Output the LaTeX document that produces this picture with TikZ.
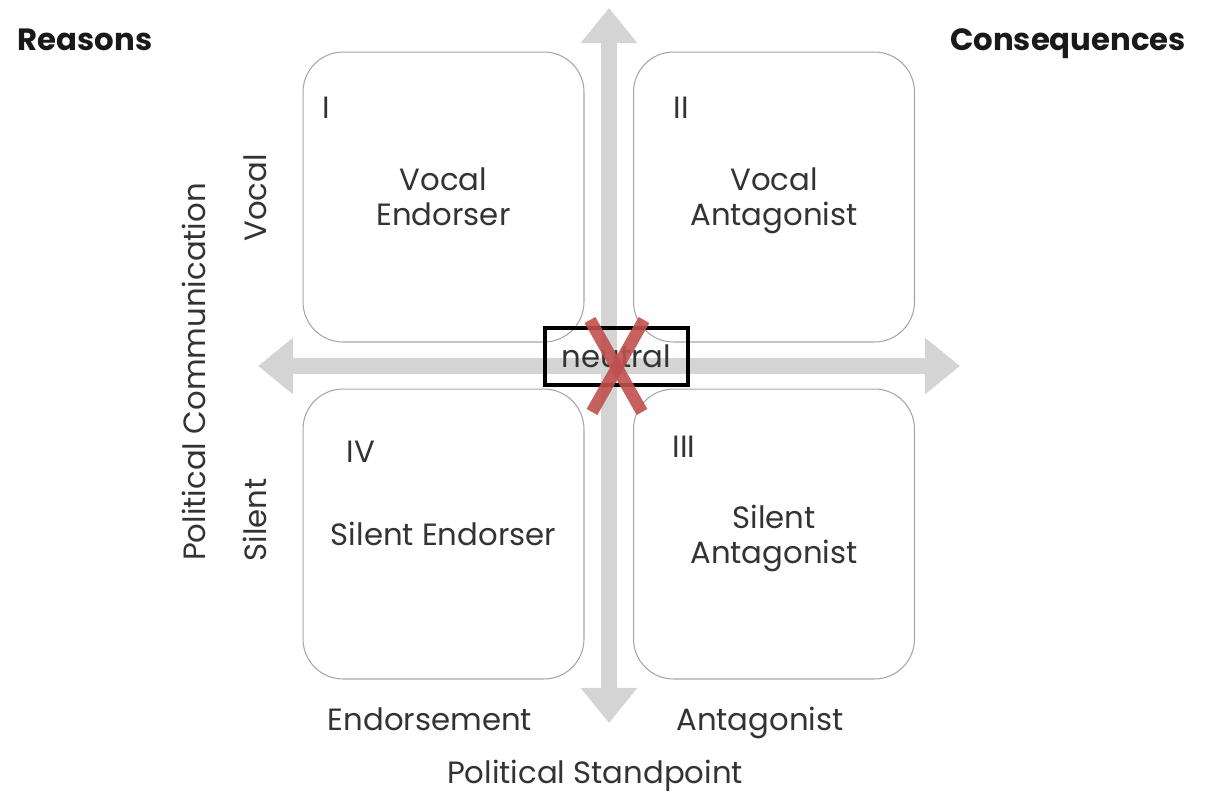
\documentclass[tikz,border=0pt]{standalone}
\usepackage{fontspec}
\setmainfont{Poppins}
\usetikzlibrary{arrows.meta}

\begin{document}
\begin{tikzpicture}[x=0.02cm,y=-0.02cm,
    txt/.style={text=black!80,font=\fontsize{17.5}{20}\selectfont},
    lbl/.style={txt,text height=0.72em,text depth=0.25em},
    quadrant/.style={txt,draw=black!35,line width=0.6pt,fill=white,rounded corners=0.8cm,
      minimum width=5.62cm,minimum height=5.8cm,align=center,inner sep=0pt,text depth=0pt},
    axis/.style={draw=axisgray,line width=9.5pt,
      {Triangle[width=31pt,length=20pt]}-{Triangle[width=31pt,length=20pt]}}]
        \colorlet{axisgray}{black!17}
        \definecolor{crossred}{RGB}{192,80,77}
        \useasboundingbox (0,0) rectangle (1220,794);

        % axes
        \coordinate (top) at (609,8);
        \coordinate (bottom) at (609,723);
        \coordinate (left) at (258,366);
        \coordinate (right) at (960,366);
        \draw[axis] (bottom) -- (top);
        \draw[axis] (left) -- (right);

        % quadrants
        \node[quadrant] (q1) at (443.5,197) {Vocal\\Endorser};
        \node[quadrant] (q2) at (774,197) {Vocal\\Antagonist};
        \node[quadrant] (q3) at (774,534) {Silent\\Antagonist};
        \node[quadrant] (q4) at (443.5,534) {Silent Endorser};

        \node[lbl] (n1) at (326,114) {I};
        \node[lbl] (n2) at (681,114) {II};
        \node[lbl] (n3) at (684,453) {III};
        \node[lbl] (n4) at (361,458) {IV};

        % neutral
        \node[txt,draw=black,line width=2.2pt,minimum width=2.86cm,minimum height=1.14cm,inner sep=0pt] (neutral) at (616.5,356.5) {neutral};
        \draw[crossred,line width=7pt,opacity=0.9] (590,320) -- (642,412);
        \draw[crossred,line width=7pt,opacity=0.9] (644,320) -- (592,412);

        % labels
        \node[lbl,rotate=90] (vocal) at (262,198) {Vocal};
        \node[lbl,rotate=90] (silent) at (262,520) {Silent};
        \node[lbl,rotate=90] (comm) at (201,372) {Political Communication};
        \node[lbl] (endorse) at (430,726) {Endorsement};
        \node[lbl] (antag) at (760,726) {Antagonist};
        \node[lbl] (stand) at (595,779) {Political Standpoint};
        \node[lbl,font=\fontsize{17.5}{20}\selectfont\bfseries,text=black!90] (reasons) at (85,46) {Reasons};
        \node[lbl,font=\fontsize{17.5}{20}\selectfont\bfseries,text=black!90] (conseq) at (1068,46) {Consequences};
    \end{tikzpicture}
\end{document}
